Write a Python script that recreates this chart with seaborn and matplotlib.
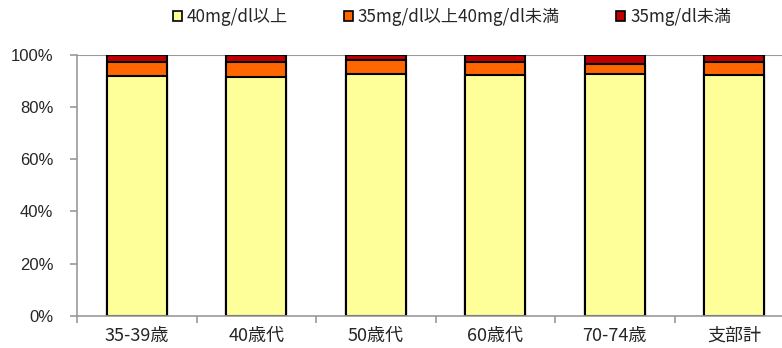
import matplotlib
matplotlib.use("Agg")
import matplotlib.pyplot as plt
import seaborn as sns
import pandas as pd
import numpy as np
from matplotlib.patches import Patch
from matplotlib.ticker import FixedLocator, PercentFormatter

categories = ["35-39歳", "40歳代", "50歳代", "60歳代", "70-74歳", "支部計"]
series_names = ["40mg/dl以上", "35mg/dl以上40mg/dl未満", "35mg/dl未満"]
high = [92.1, 91.4, 92.8, 92.2, 92.8, 92.2]
mid = [5.4, 5.8, 5.2, 5.2, 3.6, 5.2]
low = [2.5, 2.8, 2.0, 2.6, 3.6, 2.6]
colors = ["#FFFF99", "#FF6600", "#C00000"]

sns.set_theme(style="white")
plt.rcParams["font.family"] = ["Noto Sans CJK JP", "DejaVu Sans"]

df = pd.DataFrame({"cat": categories, "high": high, "mid": mid, "low": low})
df["c1"] = df["high"] / 100
df["c2"] = (df["high"] + df["mid"]) / 100
df["c3"] = (df["high"] + df["mid"] + df["low"]) / 100

fig = plt.figure(figsize=(7.82, 3.48), dpi=100)
ax = fig.add_axes([77 / 782, 1 - 315.7 / 348, (794 - 77) / 782, (315.7 - 55) / 348])

for col, c in zip(["c3", "c2", "c1"], colors[::-1]):
    sns.barplot(data=df, x="cat", y=col, color=c, width=0.5, edgecolor="black",
                linewidth=1.5, saturation=1, ax=ax, errorbar=None)

ax.set_xlim(-0.5, 5.5)
ax.set_ylim(0, 1)
ax.set_xlabel("")
ax.set_ylabel("")
ax.yaxis.set_major_locator(FixedLocator([0, 0.2, 0.4, 0.6, 0.8, 1.0]))
ax.yaxis.set_major_formatter(PercentFormatter(1.0, decimals=0))
ax.axhline(1.0, color="#999999", lw=1.5, zorder=0)

for s in ["top", "right"]:
    ax.spines[s].set_visible(False)
for s in ["left", "bottom"]:
    ax.spines[s].set_color("#999999")
    ax.spines[s].set_linewidth(1.2)

ax.xaxis.set_minor_locator(FixedLocator(np.arange(-0.5, 6.0, 1.0)))
ax.tick_params(axis="x", which="major", length=0, pad=8, labelsize=13)
ax.tick_params(axis="x", which="minor", length=5, width=1.2, color="#999999", direction="out", bottom=True)
ax.tick_params(axis="y", which="major", length=5, width=1.2, color="#999999", direction="out", left=True,
               labelsize=12, pad=12, labelfontfamily="Liberation Sans")

handles = [Patch(facecolor=c, edgecolor="black", linewidth=1.2) for c in colors]
fig.legend(handles, series_names, loc="center", bbox_to_anchor=(0.578, 0.95), ncol=3,
           frameon=False, fontsize=12.3, handlelength=0.5, handleheight=0.5,
           handletextpad=0.3, columnspacing=3.3)

fig.savefig("out.png", dpi=100)
